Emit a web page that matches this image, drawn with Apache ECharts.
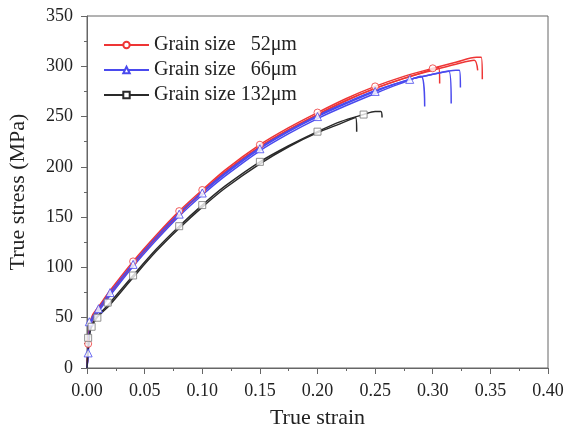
<!DOCTYPE html>
<html lang="en">

<head>
  <meta charset="UTF-8">
  <style>
    #chart {
      width: 570px;
      height: 426px;
    }

    body {
      margin: 0;
      background: #fff;
    }
  </style>
  <title>True stress - true strain</title>
</head>

<body>
  <div id="chart"></div>
  <script src="https://cdn.jsdelivr.net/npm/echarts@6/dist/echarts.min.js"></script>
  <script>
    // legend names
    var names = ['Grain size   52\u03bcm', 'Grain size   66\u03bcm', 'Grain size 132\u03bcm']

    // 52um specimens
    var red1Strain = [0, 0.001, 0.002, 0.005, 0.01, 0.02, 0.04, 0.06, 0.08, 0.10, 0.12, 0.15, 0.175, 0.20, 0.225, 0.25, 0.275, 0.30, 0.32, 0.338, 0.342, 0.343]
    var red1Stress = [0, 22, 42, 53, 61, 77, 106, 132, 156, 177, 197, 222, 239, 254, 268, 280, 290, 298, 304, 309, 309, 287]
    var red2Strain = [0, 0.001, 0.002, 0.005, 0.01, 0.02, 0.04, 0.06, 0.08, 0.10, 0.12, 0.15, 0.175, 0.20, 0.225, 0.25, 0.275, 0.30, 0.305, 0.306]
    var red2Stress = [0, 20, 38, 50, 59, 75, 104, 130, 154, 175, 195, 220, 237, 252, 266, 278, 288, 297, 299, 283]
    var red3Strain = [0, 0.001, 0.002, 0.005, 0.01, 0.02, 0.04, 0.06, 0.08, 0.10, 0.12, 0.15, 0.175, 0.20, 0.225, 0.25, 0.275, 0.30, 0.32, 0.336, 0.339]
    var red3Stress = [0, 18, 36, 49, 58, 74, 103, 129, 153, 175, 195, 220, 237, 252, 266, 278, 288, 296, 302, 306, 296]
    var redMarkStrain = [0.001, 0.04, 0.08, 0.10, 0.15, 0.20, 0.25, 0.30]
    var redMarkStress = [24, 106, 156, 177, 222, 254, 280, 298]

    // 66um specimens
    var blue1Strain = [0, 0.001, 0.002, 0.004, 0.01, 0.02, 0.04, 0.06, 0.08, 0.10, 0.12, 0.15, 0.175, 0.20, 0.225, 0.25, 0.28, 0.30, 0.314, 0.316]
    var blue1Stress = [0, 15, 35, 48, 58, 74, 103, 129, 153, 174, 193, 218, 235, 250, 263, 275, 287, 292, 295, 263]
    var blue2Strain = [0, 0.001, 0.002, 0.004, 0.01, 0.02, 0.04, 0.06, 0.08, 0.10, 0.12, 0.15, 0.175, 0.20, 0.225, 0.25, 0.27, 0.29, 0.293]
    var blue2Stress = [0, 14, 33, 46, 56, 72, 101, 127, 151, 172, 191, 216, 233, 248, 261, 273, 282, 290, 260]
    var blue3Strain = [0, 0.001, 0.002, 0.004, 0.01, 0.02, 0.04, 0.06, 0.08, 0.10, 0.12, 0.15, 0.175, 0.20, 0.225, 0.25, 0.28, 0.30, 0.32, 0.323, 0.324]
    var blue3Stress = [0, 16, 36, 49, 59, 75, 104, 130, 154, 175, 194, 219, 236, 251, 264, 276, 287, 292, 296, 296, 279]
    var blueMarkStrain = [0.001, 0.002, 0.01, 0.02, 0.04, 0.08, 0.10, 0.15, 0.20, 0.25, 0.28]
    var blueMarkStress = [15, 46, 59, 75, 103, 153, 174, 218, 250, 275, 287]

    // 132um specimens
    var black1Strain = [0, 0.001, 0.002, 0.003, 0.008, 0.02, 0.04, 0.06, 0.08, 0.10, 0.12, 0.15, 0.175, 0.20, 0.22, 0.24, 0.25, 0.255, 0.256]
    var black1Stress = [0, 20, 30, 40, 50, 65, 92, 118, 141, 162, 181, 205, 221, 235, 245, 252, 255, 255, 249]
    var black2Strain = [0, 0.001, 0.002, 0.003, 0.008, 0.02, 0.04, 0.06, 0.08, 0.10, 0.12, 0.15, 0.175, 0.20, 0.22, 0.233, 0.234]
    var black2Stress = [0, 18, 28, 38, 49, 63, 90, 116, 139, 160, 179, 203, 220, 234, 243, 249, 235]
    var blackMarkStrain = [0.001, 0.004, 0.009, 0.018, 0.04, 0.08, 0.10, 0.15, 0.20, 0.24]
    var blackMarkStress = [30, 41, 50, 65, 92, 141, 162, 205, 235, 252]

    var red = '#ee3535'
    var blue = '#4a4aee'
    var black = '#2a2a2a'

    function zip(xs, ys) {
      return xs.map((x, i) => [x, ys[i]])
    }

    function curve(name, xs, ys, color, symbol) {
      return {
        name: name,
        type: 'line',
        data: zip(xs, ys),
        symbol: symbol,
        symbolSize: 7,
        showSymbol: false,
        smooth: 0.3,
        lineStyle: { width: 1.5, color: color },
        itemStyle: { color: color },
        silent: true,
        z: 2
      }
    }

    function marks(xs, ys, color, symbol, size) {
      return {
        type: 'scatter',
        data: zip(xs, ys),
        symbol: symbol,
        symbolSize: size,
        itemStyle: { color: '#fff', borderColor: color, borderWidth: 1 },
        silent: true,
        z: 3
      }
    }

    var serif = 'Liberation Serif'
    var chart = echarts.init(document.getElementById('chart'))
    chart.setOption({
      animation: false,
      backgroundColor: '#fff',
      grid: {
        left: 87, right: 22, top: 16, bottom: 58,
        outerBoundsMode: 'none',
        containLabel: false,
        show: true, borderColor: '#666', borderWidth: 1
      },
      legend: {
        data: names,
        orient: 'vertical',
        left: 98,
        top: 30,
        itemWidth: 45,
        itemHeight: 8,
        itemGap: 5,
        textStyle: { fontFamily: serif, fontSize: 20, color: '#222' }
      },
      xAxis: {
        type: 'value',
        min: 0, max: 0.4, interval: 0.05,
        name: 'True strain',
        nameLocation: 'middle',
        nameGap: 39,
        nameTextStyle: { fontFamily: serif, fontSize: 22, color: '#222' },
        axisLine: { lineStyle: { color: '#666' } },
        axisTick: { length: 6, lineStyle: { color: '#666' } },
        minorTick: { show: true, splitNumber: 2, length: 3, lineStyle: { color: '#666' } },
        splitLine: { show: false },
        axisLabel: {
          fontFamily: serif, fontSize: 18, color: '#222', margin: 14,
          formatter: v => v.toFixed(2)
        }
      },
      yAxis: {
        type: 'value',
        min: 0, max: 350, interval: 50,
        name: 'True stress (MPa)',
        nameLocation: 'middle',
        nameGap: 58,
        nameTextStyle: { fontFamily: serif, fontSize: 22, color: '#222' },
        axisLine: { lineStyle: { color: '#666' } },
        axisTick: { length: 6, lineStyle: { color: '#666' } },
        minorTick: { show: true, splitNumber: 2, length: 3, lineStyle: { color: '#666' } },
        splitLine: { show: false },
        axisLabel: { fontFamily: serif, fontSize: 18, color: '#222', margin: 14 }
      },
      series: [
        curve(names[0], red1Strain, red1Stress, red, 'emptyCircle'),
        curve(names[1], blue1Strain, blue1Stress, blue, 'emptyTriangle'),
        curve(names[2], black1Strain, black1Stress, black, 'emptyRect'),
        curve('', red2Strain, red2Stress, red, 'none'),
        curve('', red3Strain, red3Stress, red, 'none'),
        curve('', blue2Strain, blue2Stress, blue, 'none'),
        curve('', blue3Strain, blue3Stress, blue, 'none'),
        curve('', black2Strain, black2Stress, black, 'none'),
        marks(redMarkStrain, redMarkStress, red, 'circle', 7),
        marks(blueMarkStrain, blueMarkStress, blue, 'triangle', 8),
        marks(blackMarkStrain, blackMarkStress, '#777', 'rect', 7)
      ]
    })
  </script>
</body>

</html>
